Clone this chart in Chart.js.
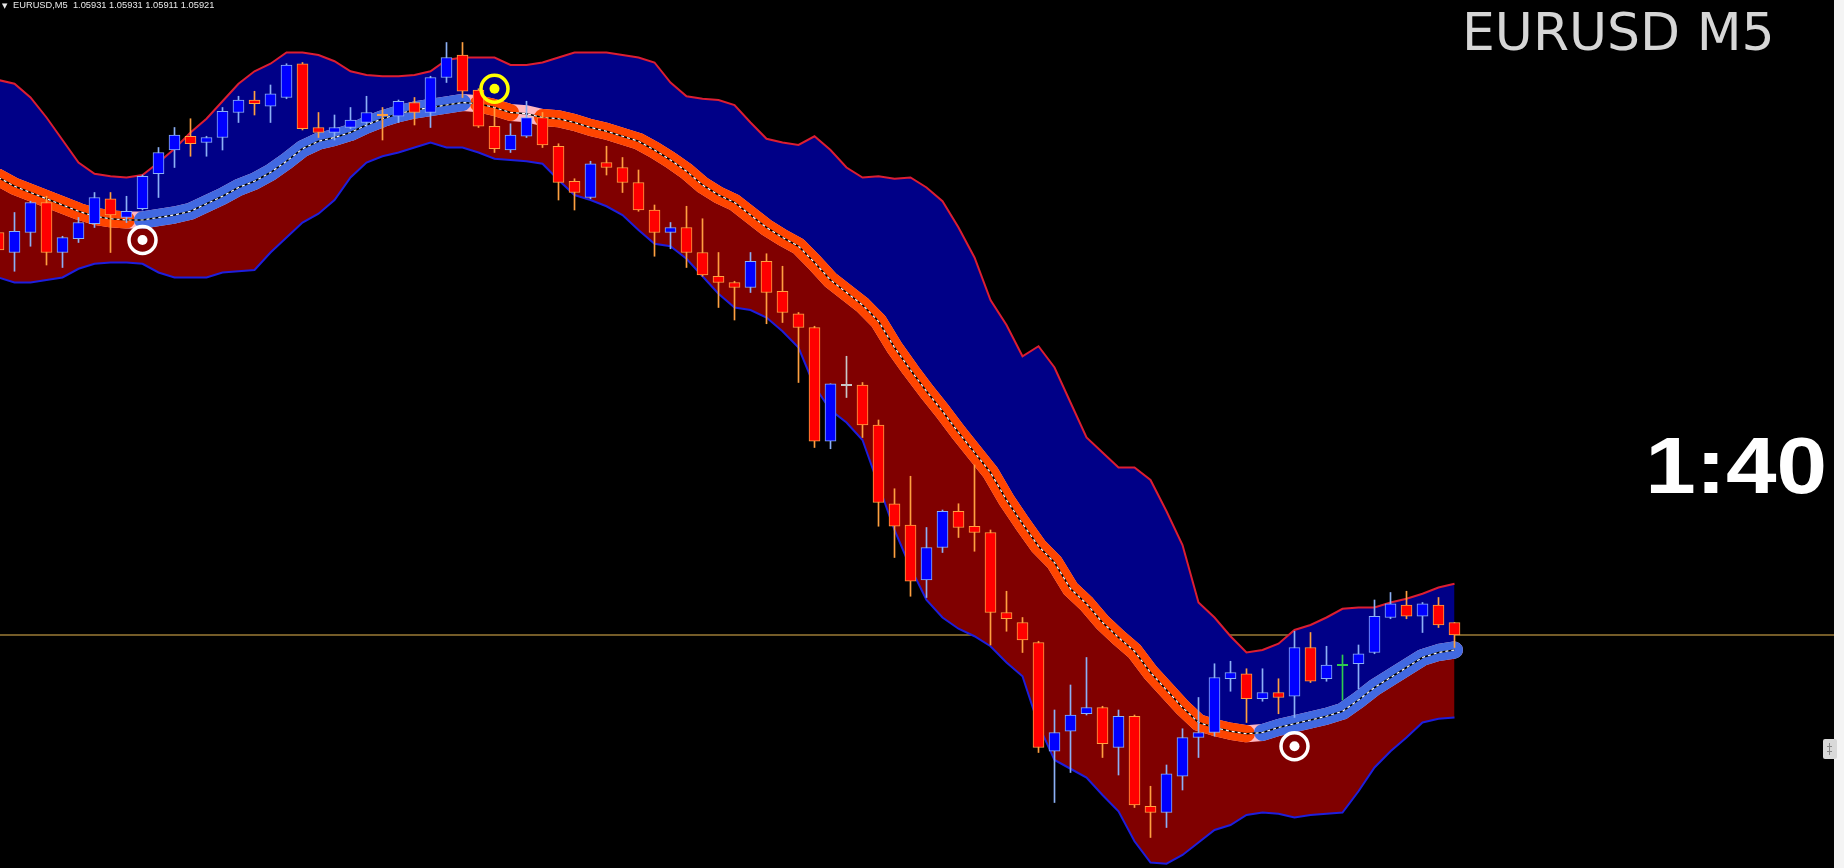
<!DOCTYPE html>
<html>
<head>
<meta charset="utf-8">
<title>EURUSD M5</title>
<script src="https://cdn.jsdelivr.net/npm/chart.js@4/dist/chart.umd.min.js"></script>
<style>
  html, body { margin: 0; padding: 0; background: #000; overflow: hidden; }
  #wrap { position: relative; width: 1844px; height: 868px; }
  canvas { display: block; background: #000; }
</style>
</head>
<body>
<div id="wrap"><canvas id="myChart" width="1844" height="868"></canvas></div>
<script>
// bar index of the first value in every array below (the half cut bar on the left edge)
const firstBar = -1;

const opens = [
  1.06243, 1.06227, 1.06243, 1.06267, 1.06227, 1.06238, 1.06250, 1.06270, 1.06255, 1.06262,
  1.06290, 1.06309, 1.06320, 1.06315, 1.06319, 1.06339, 1.06349, 1.06344, 1.06351, 1.06378,
  1.06327, 1.06323, 1.06327, 1.06331, 1.06337, 1.06336, 1.06347, 1.06339, 1.06367, 1.06385,
  1.06357, 1.06328, 1.06309, 1.06320, 1.06335, 1.06312, 1.06284, 1.06271, 1.06299, 1.06295,
  1.06283, 1.06261, 1.06243, 1.06247, 1.06227, 1.06208, 1.06203, 1.06199, 1.06220, 1.06196,
  1.06178, 1.06167, 1.06076, 1.06121, 1.06121, 1.06089, 1.06026, 1.06009, 1.05965, 1.05991,
  1.06020, 1.06008, 1.06003, 1.05939, 1.05931, 1.05915, 1.05828, 1.05844, 1.05858, 1.05863,
  1.05831, 1.05856, 1.05784, 1.05779, 1.05808, 1.05839, 1.05843, 1.05886, 1.05890, 1.05870,
  1.05875, 1.05872, 1.05911, 1.05886, 1.05897, 1.05898, 1.05907, 1.05935, 1.05945, 1.05936,
  1.05945, 1.05931
];
const highs = [
  1.06247, 1.06259, 1.06268, 1.06272, 1.06240, 1.06255, 1.06275, 1.06275, 1.06272, 1.06289,
  1.06311, 1.06327, 1.06334, 1.06320, 1.06343, 1.06352, 1.06356, 1.06361, 1.06378, 1.06379,
  1.06339, 1.06337, 1.06343, 1.06352, 1.06343, 1.06349, 1.06351, 1.06368, 1.06395, 1.06395,
  1.06358, 1.06343, 1.06330, 1.06348, 1.06339, 1.06314, 1.06286, 1.06300, 1.06312, 1.06303,
  1.06293, 1.06265, 1.06251, 1.06264, 1.06254, 1.06227, 1.06204, 1.06227, 1.06226, 1.06216,
  1.06179, 1.06168, 1.06122, 1.06144, 1.06123, 1.06093, 1.06038, 1.06048, 1.06007, 1.06021,
  1.06026, 1.06057, 1.06005, 1.05956, 1.05935, 1.05916, 1.05861, 1.05881, 1.05903, 1.05864,
  1.05861, 1.05857, 1.05800, 1.05817, 1.05846, 1.05871, 1.05898, 1.05900, 1.05894, 1.05894,
  1.05886, 1.05924, 1.05923, 1.05912, 1.05905, 1.05913, 1.05949, 1.05955, 1.05956, 1.05947,
  1.05951, 1.05931
];
const lows = [
  1.06225, 1.06212, 1.06232, 1.06217, 1.06215, 1.06235, 1.06247, 1.06227, 1.06251, 1.06261,
  1.06271, 1.06295, 1.06304, 1.06304, 1.06309, 1.06331, 1.06337, 1.06331, 1.06350, 1.06325,
  1.06319, 1.06317, 1.06326, 1.06328, 1.06317, 1.06331, 1.06329, 1.06327, 1.06363, 1.06351,
  1.06327, 1.06307, 1.06307, 1.06319, 1.06311, 1.06269, 1.06261, 1.06270, 1.06289, 1.06275,
  1.06260, 1.06224, 1.06230, 1.06215, 1.06208, 1.06183, 1.06173, 1.06195, 1.06170, 1.06171,
  1.06123, 1.06071, 1.06070, 1.06111, 1.06079, 1.06008, 1.05983, 1.05952, 1.05951, 1.05987,
  1.05999, 1.05988, 1.05913, 1.05924, 1.05907, 1.05827, 1.05787, 1.05811, 1.05857, 1.05823,
  1.05809, 1.05783, 1.05759, 1.05767, 1.05797, 1.05823, 1.05840, 1.05876, 1.05851, 1.05868,
  1.05858, 1.05855, 1.05883, 1.05884, 1.05869, 1.05878, 1.05906, 1.05934, 1.05934, 1.05923,
  1.05927, 1.05911
];
const closes = [
  1.06229, 1.06244, 1.06267, 1.06227, 1.06239, 1.06251, 1.06271, 1.06257, 1.06260, 1.06288,
  1.06307, 1.06321, 1.06314, 1.06319, 1.06340, 1.06349, 1.06346, 1.06354, 1.06377, 1.06326,
  1.06323, 1.06327, 1.06333, 1.06339, 1.06337, 1.06348, 1.06339, 1.06367, 1.06383, 1.06356,
  1.06328, 1.06310, 1.06321, 1.06335, 1.06313, 1.06283, 1.06275, 1.06298, 1.06295, 1.06283,
  1.06261, 1.06243, 1.06247, 1.06227, 1.06209, 1.06203, 1.06199, 1.06220, 1.06195, 1.06179,
  1.06167, 1.06076, 1.06122, 1.06121, 1.06089, 1.06027, 1.06008, 1.05964, 1.05991, 1.06020,
  1.06007, 1.06003, 1.05939, 1.05934, 1.05917, 1.05831, 1.05843, 1.05857, 1.05863, 1.05834,
  1.05856, 1.05785, 1.05779, 1.05810, 1.05839, 1.05843, 1.05887, 1.05891, 1.05870, 1.05875,
  1.05871, 1.05911, 1.05884, 1.05897, 1.05897, 1.05906, 1.05936, 1.05946, 1.05936, 1.05946,
  1.05929, 1.05921
];

// channel: upper band, lower band and the middle line
const upperBand = [
  1.06365, 1.06362, 1.06351, 1.06335, 1.06317, 1.06299, 1.06290, 1.06288, 1.06287, 1.06289,
  1.06299, 1.06310, 1.06323, 1.06334, 1.06348, 1.06362, 1.06372, 1.06378, 1.06387, 1.06387,
  1.06385, 1.06380, 1.06372, 1.06369, 1.06368, 1.06368, 1.06369, 1.06372, 1.06381, 1.06383,
  1.06383, 1.06383, 1.06377, 1.06377, 1.06379, 1.06383, 1.06387, 1.06387, 1.06387, 1.06385,
  1.06383, 1.06379, 1.06363, 1.06352, 1.06350, 1.06349, 1.06345, 1.06331, 1.06318, 1.06315,
  1.06313, 1.06320, 1.06309, 1.06295, 1.06287, 1.06288, 1.06286, 1.06287, 1.06279, 1.06268,
  1.06247, 1.06223, 1.06189, 1.06169, 1.06144, 1.06152, 1.06135, 1.06107, 1.06079, 1.06067,
  1.06055, 1.06055, 1.06045, 1.06020, 1.05993, 1.05947, 1.05935, 1.05920, 1.05907, 1.05909,
  1.05914, 1.05925, 1.05929, 1.05935, 1.05942, 1.05943, 1.05943, 1.05947, 1.05950, 1.05954,
  1.05959, 1.05962
];
const lowerBand = [
  1.06207, 1.06203, 1.06203, 1.06205, 1.06207, 1.06214, 1.06218, 1.06219, 1.06219, 1.06218,
  1.06211, 1.06207, 1.06207, 1.06207, 1.06211, 1.06212, 1.06213, 1.06227, 1.06239, 1.06251,
  1.06258, 1.06269, 1.06287, 1.06299, 1.06304, 1.06307, 1.06311, 1.06315, 1.06311, 1.06311,
  1.06307, 1.06302, 1.06301, 1.06300, 1.06298, 1.06285, 1.06273, 1.06269, 1.06264, 1.06257,
  1.06245, 1.06234, 1.06232, 1.06222, 1.06208, 1.06194, 1.06183, 1.06181, 1.06175, 1.06164,
  1.06151, 1.06120, 1.06101, 1.06091, 1.06077, 1.06041, 1.06005, 1.05975, 1.05949, 1.05935,
  1.05926, 1.05920, 1.05912, 1.05899, 1.05888, 1.05849, 1.05821, 1.05814, 1.05807, 1.05793,
  1.05780, 1.05756, 1.05739, 1.05738, 1.05745, 1.05755, 1.05765, 1.05769, 1.05777, 1.05779,
  1.05778, 1.05775, 1.05777, 1.05778, 1.05779, 1.05796, 1.05815, 1.05828, 1.05839, 1.05851,
  1.05854, 1.05855
];
const midLine = [
  1.06287, 1.06280, 1.06275, 1.06270, 1.06265, 1.06260, 1.06256, 1.06254, 1.06253, 1.06253,
  1.06255, 1.06257, 1.06260, 1.06266, 1.06272, 1.06279, 1.06284, 1.06291, 1.06300, 1.06310,
  1.06316, 1.06319, 1.06323, 1.06329, 1.06334, 1.06338, 1.06341, 1.06343, 1.06345, 1.06347,
  1.06346, 1.06343, 1.06339, 1.06338, 1.06335, 1.06334, 1.06331, 1.06327, 1.06324, 1.06320,
  1.06316, 1.06309, 1.06301, 1.06292, 1.06281, 1.06273, 1.06267, 1.06257, 1.06247, 1.06239,
  1.06232, 1.06219, 1.06205, 1.06195, 1.06185, 1.06172, 1.06151, 1.06133, 1.06116, 1.06100,
  1.06083, 1.06067, 1.06051, 1.06029, 1.06010, 1.05992, 1.05979, 1.05958, 1.05946, 1.05931,
  1.05919, 1.05908, 1.05891, 1.05877, 1.05863, 1.05851, 1.05847, 1.05844, 1.05842, 1.05843,
  1.05847, 1.05850, 1.05853, 1.05856, 1.05860, 1.05869, 1.05879, 1.05887, 1.05895, 1.05903,
  1.05907, 1.05909
];
// bar ranges where the middle line is coloured down (orange) / up (blue)
const downRuns = [[-1, 7], [29, 31], [33, 77]];
const upRuns = [[8, 28], [78, 90]];

// doji candles with their own colour
const dojiTint = { 52: '#C8C8C8', 83: '#2FCB4F' };

// arrow signals
const signalBars = [8, 30, 80];
const signalPrices = [1.06237, 1.06358, 1.05832];
const signalColors = ['#FFFFFF', '#FFFF00', '#FFFFFF'];

const symbolName = 'EURUSD';
const timeframe = 'M5';
const bidPrice = 1.05921;
const timerText = '1:40';

const Y_MIN = 1.057346;
const Y_MAX = 1.06429;
const X_MIN = -0.90625;
const X_MAX = 114.34375;

const BULL_BODY = '#0000FF', BULL_EDGE = '#8CB0F5';
const BEAR_BODY = '#FF0000', BEAR_EDGE = '#FFA040';
const MID_WIDTH = 17;

const barOf = k => firstBar + k;
const isDoji = k => opens[k] === closes[k];
const edgeColor = k => {
  const bar = barOf(k);
  if (dojiTint[bar]) return dojiTint[bar];
  return closes[k] > opens[k] ? BULL_EDGE : BEAR_EDGE;
};
const inRuns = (runs, bar) => runs.some(([a, b]) => bar >= a && bar <= b);
const pts = arr => arr.map((v, k) => ({ x: barOf(k), y: v }));
const runPts = runs => midLine.map((v, k) => ({ x: barOf(k), y: inRuns(runs, barOf(k)) ? v : null }));

const overlayText = {
  id: 'overlayText',
  afterDraw(chart) {
    const ctx = chart.ctx;
    const n = closes.length - 1;
    ctx.save();
    // top-left header with the last bar's OHLC
    ctx.fillStyle = '#E8E8E8';
    ctx.font = '7px "DejaVu Sans"';
    ctx.fillText('\u25BC', 2, 8);
    ctx.font = '9.3px "Liberation Sans"';
    const ohlc = [opens[n], highs[n], lows[n], closes[n]].map(v => v.toFixed(5)).join(' ');
    ctx.fillText(`${symbolName},${timeframe}  ${ohlc}`, 13, 8);
    // symbol label
    ctx.fillStyle = '#D6D6D6';
    ctx.font = '52px "DejaVu Sans"';
    ctx.fillText(`${symbolName} ${timeframe}`, 1462, 50);
    // bar timer
    ctx.fillStyle = '#FFFFFF';
    ctx.font = 'bold 79px "Liberation Sans"';
    ctx.textAlign = 'right';
    ctx.translate(1827, 493);
    ctx.scale(1.15, 1);
    ctx.fillText(timerText, 0, 0);
    ctx.restore();
    // price scale strip on the right edge
    ctx.save();
    ctx.fillStyle = '#F4F4F4';
    ctx.fillRect(1834, 0, 10, 868);
    ctx.fillStyle = '#D9D9D9';
    ctx.beginPath();
    ctx.roundRect(1823, 739, 14, 20, 2);
    ctx.fill();
    ctx.strokeStyle = '#8A8A8A';
    ctx.lineWidth = 1;
    ctx.beginPath();
    ctx.moveTo(1829.5, 743); ctx.lineTo(1829.5, 755);
    ctx.moveTo(1827, 746.5); ctx.lineTo(1832, 746.5);
    ctx.moveTo(1827, 751.5); ctx.lineTo(1832, 751.5);
    ctx.stroke();
    ctx.restore();
  }
};

let myChart;
const setup = () => {
  const ctxt = document.getElementById('myChart').getContext('2d');
  const solidBars = opens.map((o, k) => k).filter(k => !isDoji(k));
  const dojiBars = opens.map((o, k) => k).filter(k => isDoji(k));

  myChart = new Chart(ctxt, {
    type: 'line',
    data: {
      datasets: [
        { // 0 bid line
          data: [{ x: X_MIN, y: bidPrice }, { x: X_MAX, y: bidPrice }],
          borderColor: '#E9B850', borderWidth: 1, pointRadius: 0, order: 20
        },
        { // 1 upper band, navy fill down to the middle line
          data: pts(upperBand),
          borderColor: '#DC1E32', borderWidth: 2, pointRadius: 0,
          fill: { target: 3, above: '#000087', below: '#000087' }, order: 19
        },
        { // 2 lower band, maroon fill up to the middle line
          data: pts(lowerBand),
          borderColor: '#1E1EDC', borderWidth: 2, pointRadius: 0,
          fill: { target: 3, above: '#800000', below: '#800000' }, order: 18
        },
        { // 3 middle line, neutral
          data: pts(midLine),
          borderColor: '#FFB6C1', borderWidth: MID_WIDTH, pointRadius: 0,
          borderCapStyle: 'round', borderJoinStyle: 'round', order: 17
        },
        { // 4 down trend
          data: runPts(downRuns),
          borderColor: '#FF4500', borderWidth: MID_WIDTH, pointRadius: 0,
          borderCapStyle: 'round', borderJoinStyle: 'round', order: 16
        },
        { // 5 up trend
          data: runPts(upRuns),
          borderColor: '#4169E1', borderWidth: MID_WIDTH, pointRadius: 0,
          borderCapStyle: 'round', borderJoinStyle: 'round', order: 15
        },
        { // 6 center line
          data: pts(midLine),
          borderColor: '#000000', borderWidth: 1.5, pointRadius: 0, order: 14
        },
        { // 7 center dots
          data: pts(midLine),
          borderColor: '#FFFFFF', borderWidth: 1.2, borderDash: [3, 3], pointRadius: 0, order: 13
        },
        { // 8 wicks
          type: 'bar',
          data: opens.map((o, k) => ({ x: barOf(k), y: [lows[k], highs[k]] })),
          backgroundColor: opens.map((o, k) => edgeColor(k)),
          barThickness: 1, grouped: false, borderWidth: 0, order: 12
        },
        { // 9 bodies
          type: 'bar',
          data: solidBars.map(k => ({ x: barOf(k), y: [opens[k], closes[k]] })),
          backgroundColor: solidBars.map(k => closes[k] > opens[k] ? BULL_BODY : BEAR_BODY),
          borderColor: solidBars.map(k => edgeColor(k)),
          borderWidth: 1, borderSkipped: false, barThickness: 11, grouped: false, order: 11
        },
        { // 10 doji bodies
          data: dojiBars.map(k => ({ x: barOf(k), y: opens[k] })),
          showLine: false, pointStyle: 'line', pointRadius: 5.5,
          pointBorderWidth: 2, pointBorderColor: dojiBars.map(k => edgeColor(k)), order: 10
        },
        { // 11 signal rings
          data: signalBars.map((b, i) => ({ x: b, y: signalPrices[i] })),
          showLine: false, pointStyle: 'circle', pointRadius: 13.5,
          pointBorderWidth: 3.5, pointBackgroundColor: 'rgba(0,0,0,0)',
          pointBorderColor: signalColors, order: 9
        },
        { // 12 signal dots
          data: signalBars.map((b, i) => ({ x: b, y: signalPrices[i] })),
          showLine: false, pointStyle: 'circle', pointRadius: 5,
          pointBorderWidth: 0, pointBackgroundColor: signalColors, order: 8
        }
      ]
    },
    options: {
      responsive: false,
      animation: false,
      events: [],
      layout: { padding: 0, autoPadding: false },
      elements: { line: { tension: 0 } },
      plugins: { legend: { display: false }, tooltip: { enabled: false } },
      scales: {
        x: { type: 'linear', display: false, min: X_MIN, max: X_MAX, offset: false },
        y: { type: 'linear', display: false, min: Y_MIN, max: Y_MAX }
      }
    },
    plugins: [overlayText]
  });
};

window.addEventListener('DOMContentLoaded', setup);
</script>
</body>
</html>
